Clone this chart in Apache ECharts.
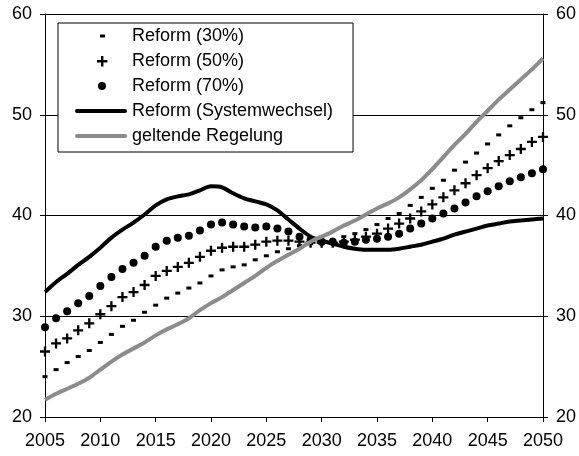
<!DOCTYPE html>
<html>
<head>
<meta charset="utf-8">
<script src="https://cdn.jsdelivr.net/npm/echarts@6/dist/echarts.min.js"></script>
<style>
  html, body { margin: 0; padding: 0; background: #fff; }
  #chart { width: 579px; height: 456px; }
</style>
</head>
<body>
<div id="chart"></div>
<script>
// Jahre 2005..2050
const years = [];
for (let y = 2005; y <= 2050; y++) years.push(y);

const reform30 = [24.0, 24.7, 25.4, 26.0, 26.6, 27.4, 28.2, 29.0, 29.6, 30.4,
  31.1, 31.8, 32.3, 32.8, 33.3, 34.0, 34.6, 34.9, 35.1, 35.6,
  36.0, 36.4, 36.7, 37.0, 37.2, 37.4, 37.6, 37.9, 38.2, 38.6,
  39.1, 39.7, 40.2, 41.0, 41.8, 42.7, 43.5, 44.5, 45.3, 46.2,
  47.1, 48.0, 48.9, 49.7, 50.5, 51.2];

const reform50 = [26.5, 27.3, 27.8, 28.6, 29.3, 30.2, 31.0, 31.9, 32.4, 33.1,
  34.0, 34.5, 34.9, 35.3, 35.9, 36.5, 36.8, 36.9, 36.9, 37.1,
  37.4, 37.5, 37.5, 37.4, 37.3, 37.3, 37.3, 37.4, 37.6, 37.9,
  38.2, 38.7, 39.2, 39.7, 40.4, 41.1, 41.8, 42.5, 43.2, 44.0,
  44.7, 45.4, 46.0, 46.6, 47.3, 47.8];

const reform70 = [28.9, 29.8, 30.5, 31.3, 32.0, 33.0, 33.9, 34.7, 35.3, 36.0,
  36.9, 37.5, 37.8, 38.0, 38.5, 39.1, 39.3, 39.1, 38.9, 38.8,
  38.9, 38.7, 38.4, 37.9, 37.6, 37.4, 37.4, 37.3, 37.4, 37.6,
  37.7, 37.9, 38.2, 38.7, 39.2, 39.7, 40.2, 40.7, 41.3, 41.9,
  42.4, 42.9, 43.4, 43.8, 44.2, 44.6];

const systemwechsel = [32.4, 33.4, 34.2, 35.1, 35.9, 36.8, 37.8, 38.6, 39.3, 40.1,
  41.0, 41.6, 41.9, 42.1, 42.5, 42.9, 42.8, 42.2, 41.7, 41.4,
  41.1, 40.5, 39.6, 38.7, 37.9, 37.5, 37.2, 36.9, 36.7, 36.6,
  36.6, 36.6, 36.7, 36.9, 37.1, 37.4, 37.7, 38.1, 38.4, 38.7,
  39.0, 39.2, 39.4, 39.5, 39.6, 39.7];

const geltend = [21.7, 22.3, 22.8, 23.3, 23.9, 24.7, 25.5, 26.2, 26.8, 27.4,
  28.1, 28.7, 29.2, 29.8, 30.6, 31.3, 31.9, 32.6, 33.3, 34.0,
  34.8, 35.5, 36.1, 36.7, 37.4, 37.9, 38.4, 39.0, 39.5, 40.1,
  40.7, 41.2, 41.8, 42.6, 43.5, 44.6, 45.8, 47.0, 48.1, 49.3,
  50.4, 51.5, 52.5, 53.5, 54.5, 55.6];

const names = ["Reform (30%)", "Reform (50%)", "Reform (70%)",
  "Reform (Systemwechsel)", "geltende Regelung"];

function pairs(vals) {
  return years.map((y, i) => [y, vals[i]]);
}

const FONT = "'Liberation Sans', Arial, sans-serif";
const plusPath = "path://M4,0h2.4v4h4v2.4h-4v4h-2.4v-4h-4v-2.4h4z";
// Legenden-Symbole im 52x14-Rahmen (M0,0 / M52,14 halten die Groesse fest)
const lineIcon = "path://M0,0M52,14M2,5h48a2,2 0 0,1 0,4h-48a2,2 0 0,1 0,-4z";

let chart = echarts.init(document.getElementById("chart"));

const yAxisBase = {
  type: "value",
  min: 20,
  max: 60,
  interval: 10,
  axisLine: { show: true, lineStyle: { color: "#000", width: 1 } },
  axisTick: { show: true, length: 5, lineStyle: { color: "#000" } },
  axisLabel: { color: "#000", fontSize: 18, fontFamily: FONT, margin: 13 },
};

let option = {
  animation: false,
  backgroundColor: "#fff",
  grid: { left: 45, right: 35, top: 14, bottom: 39 },
  legend: {
    orient: "vertical",
    left: 58,
    top: 23,
    padding: [4, 20, 7, 17],
    itemWidth: 52,
    itemHeight: 14,
    itemGap: 7,
    backgroundColor: "#fff",
    borderColor: "#000",
    borderWidth: 1,
    textStyle: { color: "#000", fontSize: 18, fontFamily: FONT, lineHeight: 18 },
    data: [
      { name: names[0], icon: "path://M0,0M52,14M25,5.5h5v3h-5z" },
      { name: names[1], icon: "path://M0,0M52,14M26,2h2.4v4h4v2.4h-4v4h-2.4v-4h-4v-2.4h4z" },
      { name: names[2], icon: "path://M0,0M52,14M23,7a4,4 0 1,0 8,0a4,4 0 1,0 -8,0z" },
      { name: names[3], icon: lineIcon },
      { name: names[4], icon: lineIcon },
    ],
  },
  xAxis: {
    type: "value",
    min: 2005,
    max: 2050,
    interval: 5,
    axisLine: { show: true, lineStyle: { color: "#000", width: 1 } },
    axisTick: { show: true, length: 5, lineStyle: { color: "#000" } },
    axisLabel: {
      color: "#000", fontSize: 18, fontFamily: FONT, margin: 15,
      formatter: (v) => String(v),
    },
    splitLine: { show: false },
  },
  yAxis: [
    Object.assign({}, yAxisBase, {
      position: "left",
      splitLine: { show: true, lineStyle: { color: "#000", width: 1 } },
    }),
    Object.assign({}, yAxisBase, {
      position: "right",
      splitLine: { show: false },
    }),
  ],
  series: [
    {
      name: names[0],
      type: "scatter",
      symbol: "rect",
      symbolSize: [5, 3],
      itemStyle: { color: "#000", opacity: 1 },
      data: pairs(reform30),
    },
    {
      name: names[1],
      type: "scatter",
      symbol: plusPath,
      symbolSize: 10,
      itemStyle: { color: "#000", opacity: 1 },
      data: pairs(reform50),
    },
    {
      name: names[2],
      type: "scatter",
      symbol: "circle",
      symbolSize: 8,
      itemStyle: { color: "#000", opacity: 1 },
      data: pairs(reform70),
    },
    {
      name: names[3],
      type: "line",
      showSymbol: false,
      symbol: "none",
      smooth: 0.3,
      itemStyle: { color: "#000" },
      lineStyle: { color: "#000", width: 4 },
      data: pairs(systemwechsel),
    },
    {
      name: names[4],
      type: "line",
      showSymbol: false,
      symbol: "none",
      smooth: 0.3,
      itemStyle: { color: "#8c8c8c" },
      lineStyle: { color: "#8c8c8c", width: 4 },
      data: pairs(geltend),
    },
  ],
};

chart.setOption(option);
</script>
</body>
</html>
